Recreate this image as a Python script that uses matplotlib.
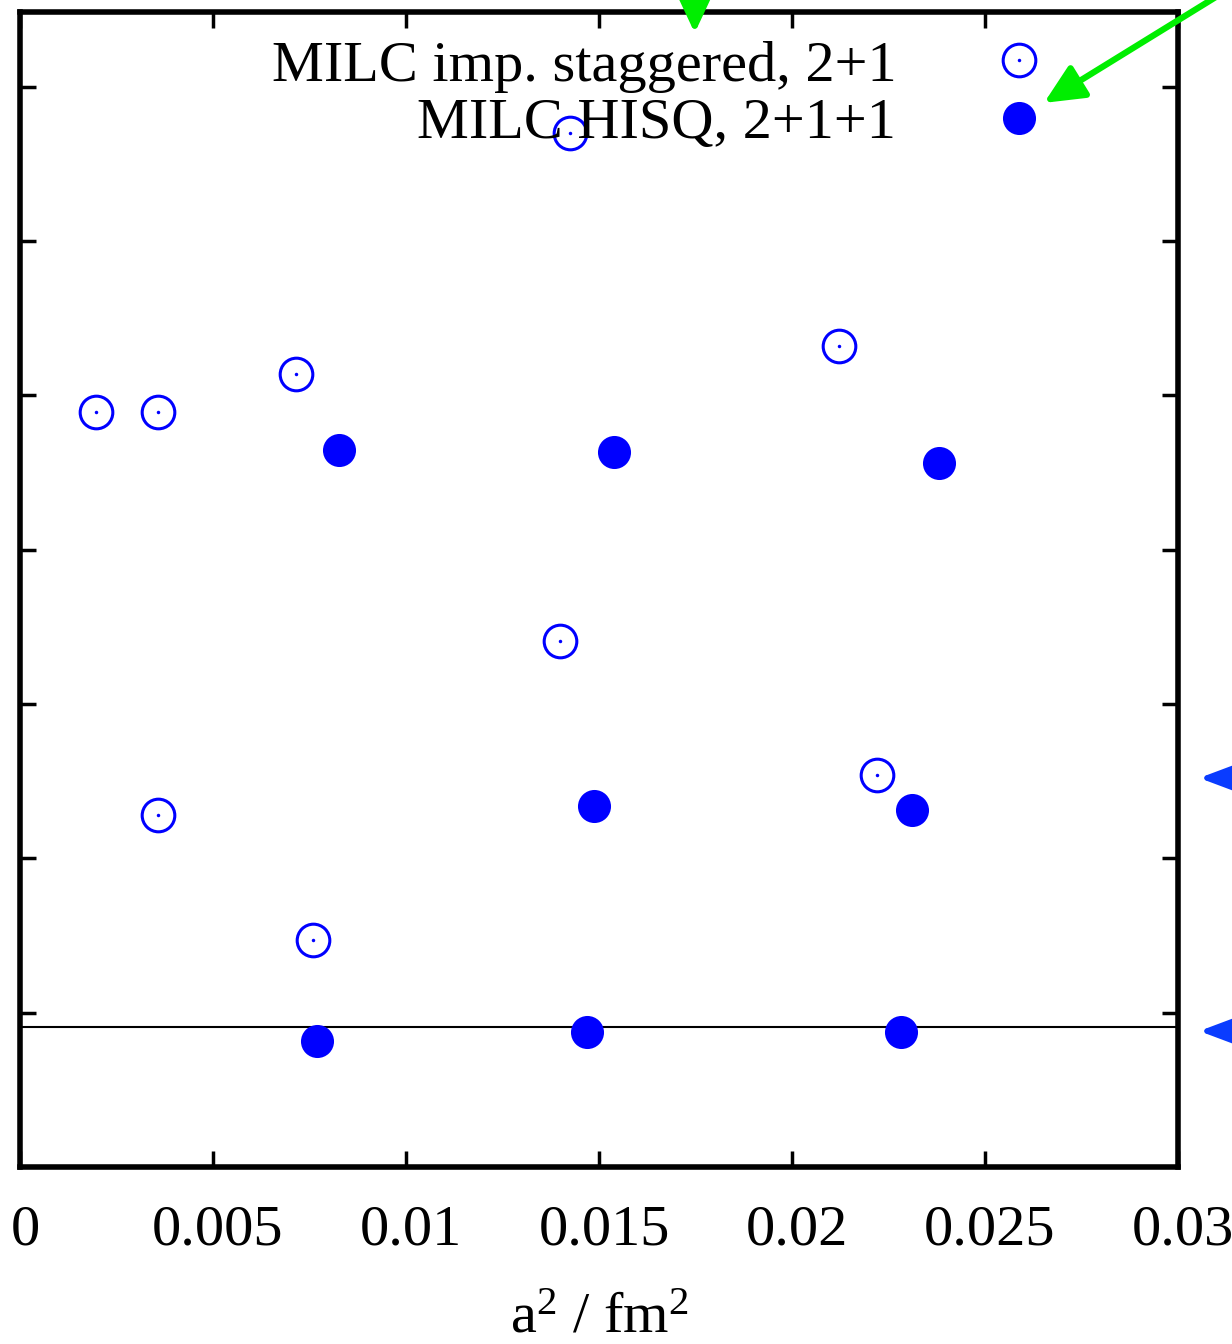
import matplotlib
matplotlib.use("Agg")
import matplotlib.pyplot as plt
import matplotlib.transforms as mtransforms
from matplotlib.legend_handler import HandlerTuple

plt.rcParams['font.family'] = ['Liberation Serif', 'DejaVu Serif']
plt.rcParams['mathtext.fontset'] = 'custom'
plt.rcParams['mathtext.rm'] = 'Liberation Serif'
plt.rcParams['mathtext.it'] = 'Liberation Serif:italic'

# ---- data ----
stag_label = "MILC imp. staggered, 2+1"
stag_x = [0.01426, 0.02121, 0.00716, 0.00197, 0.00358, 0.01400, 0.02220, 0.00358, 0.00760]
stag_y = [6.701, 5.321, 5.139, 4.893, 4.893, 3.409, 2.540, 2.281, 1.471]

hisq_label = "MILC HISQ, 2+1+1"
hisq_x = [0.00827, 0.01540, 0.02380, 0.01488, 0.02310, 0.01470, 0.02282, 0.00770]
hisq_y = [4.647, 4.634, 4.563, 2.340, 2.314, 0.875, 0.875, 0.817]

hline_y = 0.907

# reference arrows (tip positions, data coords)
blue_arrow_y = [2.521, 0.881]
green_tips = [(0.01748, 7.349), (0.02653, 6.896)]
green_tails = [(0.01748, 8.2), (0.03319, 7.923)]

xticks = [0, 0.005, 0.01, 0.015, 0.02, 0.025, 0.03]
xticklabels = ["0", "0.005", "0.01", "0.015", "0.02", "0.025", "0.03"]
yticks = [1, 2, 3, 4, 5, 6, 7]

fig = plt.figure(figsize=(12.32, 13.44), dpi=100)
ax = fig.add_axes([20/1232, 1 - 1167/1344, 1158/1232, 1155/1344])

blue = '#0000ff'
l1, = ax.plot(stag_x, stag_y, linestyle='none', marker='o', markersize=23.5,
              markerfacecolor='none', markeredgecolor=blue, markeredgewidth=2.2, zorder=3)
l1d, = ax.plot(stag_x, stag_y, linestyle='none', marker='o', markersize=2.5,
               color=blue, markeredgewidth=0, zorder=3)
l2, = ax.plot(hisq_x, hisq_y, linestyle='none', marker='o', markersize=23.8,
              color=blue, markeredgewidth=0, zorder=3)

ax.axhline(hline_y, color='black', linewidth=1.5, zorder=2)

ax.set_xlim(0, 0.03)
ax.set_ylim(0, 7.485)
ax.set_xticks(xticks)
ax.set_xticklabels(xticklabels)
ax.set_yticks(yticks)
ax.set_yticklabels([])
ax.tick_params(direction='in', length=11.5, width=2.5, top=True, right=True,
               labelsize=42, pad=27)
offset = mtransforms.ScaledTranslation(5/100, 0, fig.dpi_scale_trans)
for lab in ax.get_xticklabels():
    lab.set_transform(lab.get_transform() + offset)
for s in ax.spines.values():
    s.set_linewidth(4)
ax.set_xlabel(r'a$^{2}$ / fm$^{2}$', fontsize=42, labelpad=26)

leg = ax.legend([(l1, l1d), l2], [stag_label, hisq_label],
                handler_map={tuple: HandlerTuple(ndivide=1)},
                loc='upper right', bbox_to_anchor=(0.9128, 0.976),
                markerfirst=False, frameon=False, fontsize=42,
                borderpad=0, borderaxespad=0, handlelength=2.0,
                handletextpad=1.1, labelspacing=0.08, numpoints=1)

# green arrows
for tip, tail in zip(green_tips, green_tails):
    ax.annotate('', xy=tip, xytext=tail, xycoords='data', textcoords='data',
                annotation_clip=False,
                arrowprops=dict(arrowstyle='-|>,head_length=0.6,head_width=0.28',
                                mutation_scale=40, color='#00ee00', lw=4.5,
                                shrinkA=0, shrinkB=0))
# blue arrows at right edge
for yv in blue_arrow_y:
    ax.annotate('', xy=(0.03055, yv), xytext=(0.0370, yv), xycoords='data',
                textcoords='data', annotation_clip=False,
                arrowprops=dict(arrowstyle='-|>,head_length=1.2,head_width=0.45',
                                mutation_scale=40, color='#0a3cff', lw=4,
                                shrinkA=0, shrinkB=0))

fig.savefig('out.png', dpi=100)
